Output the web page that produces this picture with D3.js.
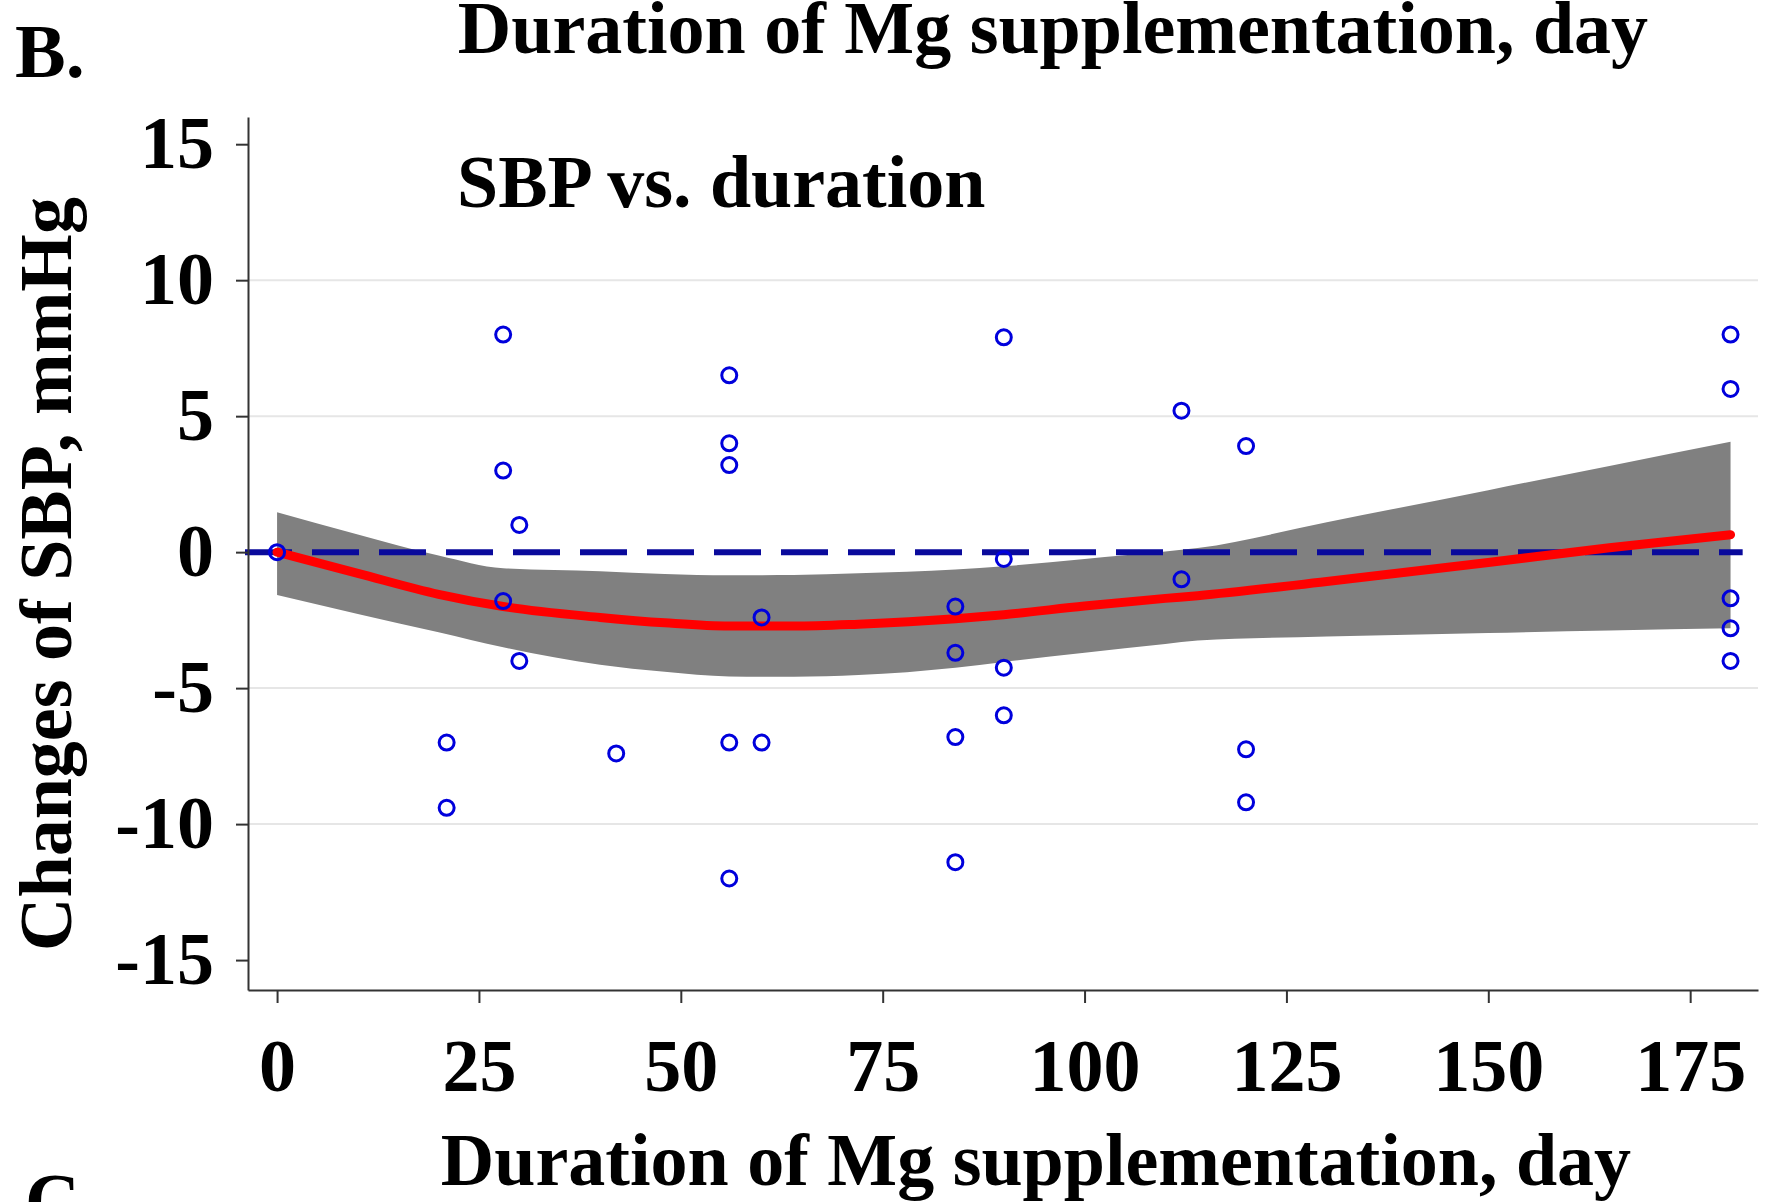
<!DOCTYPE html>
<html>
<head>
<meta charset="utf-8">
<script src="https://cdn.jsdelivr.net/npm/d3@7"></script>
<style>
  body { margin: 0; background: #fff; }
  svg { display: block; }
  text { font-family: "Liberation Serif", "Times New Roman", serif; font-weight: bold; fill: #000; }
</style>
</head>
<body>
<svg id="chart" width="1778" height="1202"></svg>
<script>
// observed points: duration (day) vs change of SBP (mmHg)
var pointDay = [0, 21, 21, 28, 28, 28, 30, 30, 42, 56, 56, 56, 56, 56, 60, 60,
                84, 84, 84, 84, 90, 90, 90, 90, 112, 112, 120, 120, 120,
                180, 180, 180, 180, 180];
var pointSBP = [0, -7.0, -9.4, 8.0, 3.0, -1.8, 1.0, -4.0, -7.4, 6.5, 4.0, 3.2, -7.0, -12.0, -2.4, -7.0,
                -2.0, -3.7, -6.8, -11.4, 7.9, -0.25, -4.25, -6.0, 5.2, -1.0, 3.9, -7.25, -9.2,
                8.0, 6.0, -1.7, -2.8, -4.0];

// fitted curve and confidence band
var fitDay   = [0, 10, 20, 28, 40, 48, 56, 64, 72, 84, 90, 100, 110, 114, 130, 150, 165, 180];
var fitMean  = [0, -0.78, -1.55, -2.0, -2.4, -2.6, -2.72, -2.72, -2.65, -2.45, -2.3, -1.98, -1.7, -1.6, -1.08, -0.38, 0.16, 0.64];
var fitUpper = [1.47, 0.65, -0.12, -0.59, -0.7, -0.8, -0.85, -0.84, -0.78, -0.64, -0.52, -0.25, 0.02, 0.15, 1.1, 2.28, 3.17, 4.06];
var fitLower = [-1.58, -2.27, -2.95, -3.5, -4.14, -4.4, -4.57, -4.58, -4.52, -4.25, -4.04, -3.7, -3.38, -3.25, -3.1, -2.97, -2.88, -2.8];

var xTicks = [0, 25, 50, 75, 100, 125, 150, 175];
var yTicks = [-15, -10, -5, 0, 5, 10, 15];
var gridValues = [-10, -5, 5, 10];

var svg = d3.select("#chart");

var x = d3.scaleLinear().domain([-3.6, 183.4]).range([248, 1758]);
var y = d3.scaleLinear().domain([-16.1, 16.0]).range([990, 117]);

// grid
svg.append("g").selectAll("line")
  .data(gridValues)
  .enter()
  .append("line")
  .attr("x1", x.range()[0]).attr("x2", x.range()[1])
  .attr("y1", d => y(d)).attr("y2", d => y(d))
  .style("stroke", "#e6e6e6")
  .style("stroke-width", 2);

var fit = fitDay.map(function(d, i) {
  return { day: d, mean: fitMean[i], lo: fitLower[i], hi: fitUpper[i] };
});

// band
var area = d3.area()
  .x(d => x(d.day))
  .y0(d => y(d.lo))
  .y1(d => y(d.hi))
  .curve(d3.curveMonotoneX);

svg.append("path")
  .datum(fit)
  .attr("d", area)
  .style("fill", "#808080");

// reference line at zero
svg.append("line")
  .attr("x1", x.range()[0] - 3).attr("x2", x(181.5))
  .attr("y1", y(0)).attr("y2", y(0))
  .style("stroke", "#0a0a9c")
  .style("stroke-width", 6)
  .style("stroke-dasharray", "47,20");

// fitted line
var line = d3.line()
  .x(d => x(d.day))
  .y(d => y(d.mean))
  .curve(d3.curveMonotoneX);

svg.append("path")
  .datum(fit)
  .attr("d", line)
  .style("fill", "none")
  .style("stroke", "#ff0000")
  .style("stroke-width", 9)
  .style("stroke-linecap", "round");

// points
svg.append("g").selectAll("circle")
  .data(pointDay)
  .enter()
  .append("circle")
  .attr("cx", d => x(d))
  .attr("cy", (d, i) => y(pointSBP[i]))
  .attr("r", 7.5)
  .style("fill", "none")
  .style("stroke", "#0000dc")
  .style("stroke-width", 3);

// axes
var fmt = d => String(d);   // plain hyphen minus, as in the original

var xAxis = svg.append("g")
  .attr("transform", "translate(0," + y.range()[0] + ")")
  .call(d3.axisBottom(x).tickValues(xTicks).tickSize(13).tickSizeOuter(0).tickFormat(fmt));

var yAxis = svg.append("g")
  .attr("transform", "translate(" + x.range()[0] + ",0)")
  .call(d3.axisLeft(y).tickValues(yTicks).tickSize(12).tickSizeOuter(0).tickPadding(22).tickFormat(fmt));

[xAxis, yAxis].forEach(function(ax) {
  ax.select(".domain").style("stroke", "#333").style("stroke-width", 2);
  ax.selectAll(".tick line").style("stroke", "#333").style("stroke-width", 2);
  ax.selectAll(".tick text")
    .style("font-family", '"Liberation Serif", "Times New Roman", serif')
    .style("font-weight", "bold")
    .style("font-size", "74px")
    .style("fill", "#000");
});
xAxis.selectAll(".tick text").attr("y", 101).attr("dy", 0);

// texts
svg.append("text")
  .attr("x", 1053).attr("y", 53)
  .attr("text-anchor", "middle")
  .style("font-size", "74px")
  .text("Duration of Mg supplementation, day");

svg.append("text")
  .attr("x", 1036).attr("y", 1185)
  .attr("text-anchor", "middle")
  .style("font-size", "74px")
  .text("Duration of Mg supplementation, day");

svg.append("text")
  .attr("transform", "translate(71,574) rotate(-90)")
  .attr("text-anchor", "middle")
  .style("font-size", "74px")
  .text("Changes of SBP, mmHg");

svg.append("text")
  .attr("x", 457).attr("y", 207)
  .style("font-size", "74px")
  .text("SBP vs. duration");

svg.append("text")
  .attr("x", 15).attr("y", 77)
  .style("font-size", "76px")
  .text("B.");

svg.append("text")
  .attr("x", 25).attr("y", 1226)
  .style("font-size", "76px")
  .text("C.");
</script>
</body>
</html>
